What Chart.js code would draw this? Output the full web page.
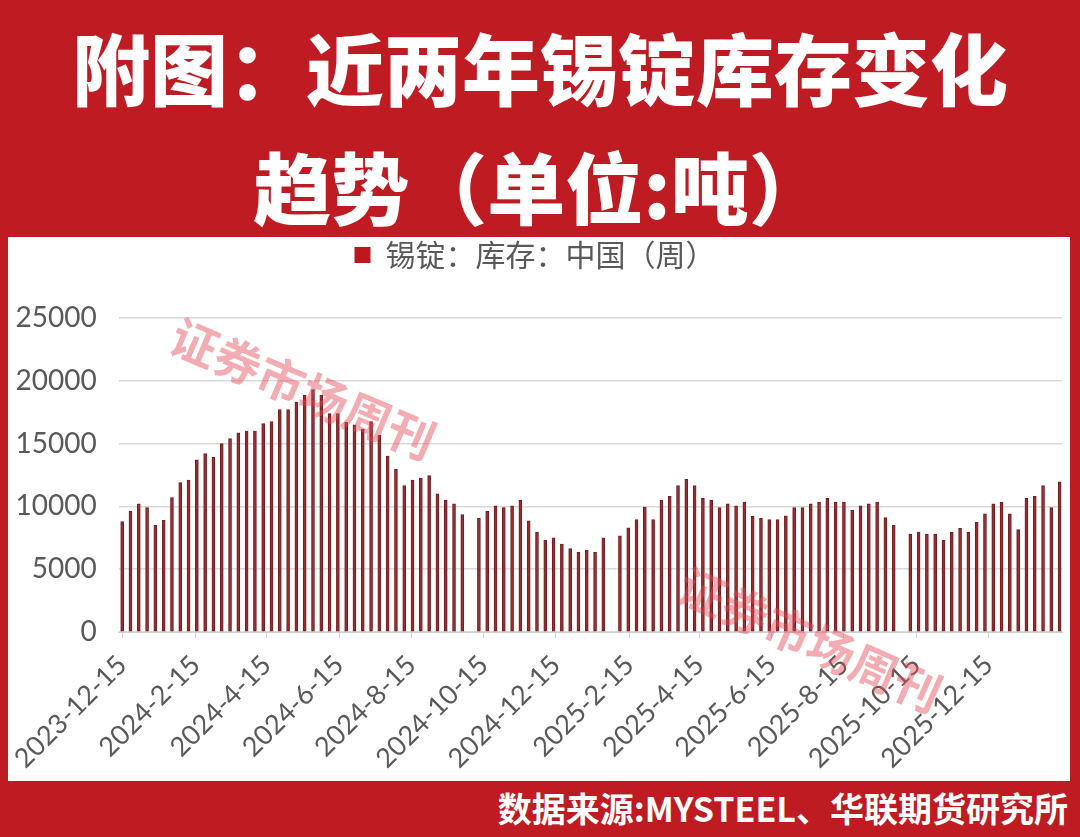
<!DOCTYPE html>
<html>
<head>
<meta charset="utf-8">
<script src="https://cdn.jsdelivr.net/npm/chart.js@4.4.1/dist/chart.umd.min.js"></script>
<style>
  html, body { margin: 0; padding: 0; background: #BE1B22; }
  #wrap { position: relative; width: 1080px; height: 837px; background: #BE1B22; overflow: hidden; }
  .title { position: absolute; left: 0; width: 1080px; text-align: center; color: #fff;
           font-family: "Noto Sans CJK SC", sans-serif; font-weight: 900; font-size: 78px; line-height: 78px; white-space: nowrap; }
  #t1 { top: 27px; }
  #t2 { top: 146px; }
  #panel { position: absolute; left: 8px; top: 237px; width: 1062px; height: 544px; background: #fff; }
  #src { position: absolute; right: 12px; top: 791px; color: #fff; font-family: "Noto Sans CJK SC", sans-serif;
         font-weight: 700; font-size: 34px; line-height: 34px; white-space: nowrap; }
</style>
</head>
<body>
<div id="wrap">
  <div class="title" id="t1">附图：近两年锡锭库存变化</div>
  <div class="title" id="t2">趋势（单位:吨）</div>
  <div id="panel"><canvas id="c" width="1062" height="544"></canvas></div>
  <div id="src">数据来源:MYSTEEL、华联期货研究所</div>
</div>
<script>
// Weekly dates (holiday weeks without data are absent)
const dates = [
  "2023-12-15","2023-12-22","2023-12-29",
  "2024-01-05","2024-01-12","2024-01-19","2024-01-26","2024-02-02","2024-02-09","2024-02-16","2024-02-23",
  "2024-03-01","2024-03-08","2024-03-15","2024-03-22","2024-03-29","2024-04-05","2024-04-12","2024-04-19","2024-04-26",
  "2024-05-03","2024-05-10","2024-05-17","2024-05-24","2024-05-31","2024-06-07","2024-06-14","2024-06-21","2024-06-28",
  "2024-07-05","2024-07-12","2024-07-19","2024-07-26","2024-08-02","2024-08-09","2024-08-16","2024-08-23","2024-08-30",
  "2024-09-06","2024-09-13","2024-09-20","2024-09-27","2024-10-11","2024-10-18","2024-10-25",
  "2024-11-01","2024-11-08","2024-11-15","2024-11-22","2024-11-29","2024-12-06","2024-12-13","2024-12-20","2024-12-27",
  "2025-01-03","2025-01-10","2025-01-17","2025-01-24","2025-02-07","2025-02-14","2025-02-21","2025-02-28",
  "2025-03-07","2025-03-14","2025-03-21","2025-03-28","2025-04-04","2025-04-11","2025-04-18","2025-04-25",
  "2025-05-02","2025-05-09","2025-05-16","2025-05-23","2025-05-30","2025-06-06","2025-06-13","2025-06-20","2025-06-27",
  "2025-07-04","2025-07-11","2025-07-18","2025-07-25","2025-08-01","2025-08-08","2025-08-15","2025-08-22","2025-08-29",
  "2025-09-05","2025-09-12","2025-09-19","2025-09-26","2025-10-10","2025-10-17","2025-10-24","2025-10-31",
  "2025-11-07","2025-11-14","2025-11-21","2025-11-28","2025-12-05","2025-12-12","2025-12-19","2025-12-26",
  "2026-01-02","2026-01-09","2026-01-16","2026-01-23","2026-01-30","2026-02-06","2026-02-13"
];

// 锡锭：库存：中国（周）, tonnes
const inventory = [
  8800, 9600, 10200,
  9900, 8500, 8900, 10700, 11900, 12100, 13700, 14200,
  13900, 15000, 15400, 15850, 16000, 16000, 16600, 16750, 17700,
  17700, 18300, 18850, 19300, 18850, 17400, 17400, 16700, 16500,
  16150, 16750, 15650, 14000, 12950, 11650, 12100, 12250, 12450,
  11000, 10500, 10200, 9350, 9050, 9600, 10050,
  9900, 10050, 10500, 8850, 7950, 7300, 7500, 7000, 6650,
  6350, 6500, 6350, 7500, 7650, 8300, 8950, 9950,
  8950, 10500, 10800, 11650, 12150, 11650, 10650, 10500,
  9900, 10200, 10050, 10350, 9200, 9050, 8950, 8950, 9250,
  9900, 9900, 10200, 10350, 10650, 10350, 10350, 9700, 10050,
  10200, 10350, 9100, 8500, 7800, 7950, 7800, 7800,
  7300, 7950, 8250, 7950, 8750, 9400, 10200, 10350,
  9400, 8150, 10650, 10800, 11650, 9900, 11950
];

const tickDates  = ["2023-12-15","2024-02-15","2024-04-15","2024-06-15","2024-08-15","2024-10-15","2024-12-15",
                    "2025-02-15","2025-04-15","2025-06-15","2025-08-15","2025-10-15","2025-12-15"];
const tickLabels = ["2023-12-15","2024-2-15","2024-4-15","2024-6-15","2024-8-15","2024-10-15","2024-12-15",
                    "2025-2-15","2025-4-15","2025-6-15","2025-8-15","2025-10-15","2025-12-15"];
const yTicks = [0, 5000, 10000, 15000, 20000, 25000];
const seriesName = "锡锭：库存：中国（周）";

const origin = Date.UTC(2023, 11, 15);
function dayNum(s) {
  const [y, m, d] = s.split("-").map(Number);
  return (Date.UTC(y, m - 1, d) - origin) / 86400000;
}
const points = dates.map((d, i) => ({ x: dayNum(d), y: inventory[i] }));
const tickDays = tickDates.map(dayNum);
const lastDay = dayNum(dates[dates.length - 1]);

const watermark = {
  id: 'watermark',
  afterDraw(chart) {
    const ctx = chart.ctx;
    ctx.save();
    ctx.font = 'bold 47px "Noto Sans CJK SC"';
    ctx.fillStyle = 'rgba(228, 70, 85, 0.45)';
    ctx.textAlign = 'center';
    ctx.textBaseline = 'middle';
    [[295, 152, 23], [802, 403, 24]].forEach(([x, y, a]) => {
      ctx.save();
      ctx.translate(x, y);
      ctx.rotate(a * Math.PI / 180);
      ctx.fillText('证券市场周刊', 0, 0);
      ctx.restore();
    });
    ctx.restore();
  }
};

const legendSpace = {
  id: 'legendSpace',
  beforeInit(chart) {
    const fit = chart.legend.fit;
    chart.legend.fit = function () { fit.bind(chart.legend)(); this.height += 38; };
  }
};

new Chart(document.getElementById('c'), {
  type: 'bar',
  data: {
    datasets: [{
      label: seriesName,
      data: points,
      backgroundColor: '#9C2A2E',
      borderColor: '#6E1F23',
      borderWidth: 1,
      borderSkipped: false,
      barThickness: 3
    }]
  },
  options: {
    responsive: false,
    animation: false,
    devicePixelRatio: 1,
    layout: { padding: { top: 0, right: 8, bottom: 0, left: 0 } },
    plugins: {
      tooltip: { enabled: false },
      legend: {
        position: 'top',
        labels: {
          color: '#595959',
          font: { family: '"Noto Sans CJK SC"', size: 30 },
          boxWidth: 16, boxHeight: 16, padding: 3,
          generateLabels: (chart) => [{
            text: seriesName, fillStyle: '#C0171D', strokeStyle: '#C0171D', lineWidth: 0,
            fontColor: '#595959', datasetIndex: 0, hidden: false
          }]
        }
      }
    },
    scales: {
      x: {
        type: 'linear',
        offset: false,
        min: -3,
        max: lastDay + 2,
        afterBuildTicks: (s) => { s.ticks = tickDays.map(v => ({ value: v })); },
        afterFit: (s) => { s.height = 149; },
        ticks: {
          autoSkip: false, maxRotation: 45, minRotation: 45,
          color: '#595959', font: { family: 'Lato', size: 27 }, padding: 11,
          callback: (v, i) => tickLabels[i]
        },
        grid: { drawOnChartArea: false, drawTicks: true, tickLength: 6, color: '#D0D0D0', offset: false },
        border: { display: true, color: '#D0D0D0' }
      },
      y: {
        min: 0, max: 25000,
        afterBuildTicks: (s) => { s.ticks = yTicks.map(v => ({ value: v })); },
        afterFit: (s) => { s.width = 109; },
        ticks: { color: '#595959', font: { family: 'Lato', size: 28 }, padding: 22, callback: (v) => String(v) },
        grid: { color: '#D9D9D9', drawTicks: false, lineWidth: 1.5 },
        border: { display: false }
      }
    }
  },
  plugins: [legendSpace, watermark]
});
</script>
</body>
</html>
